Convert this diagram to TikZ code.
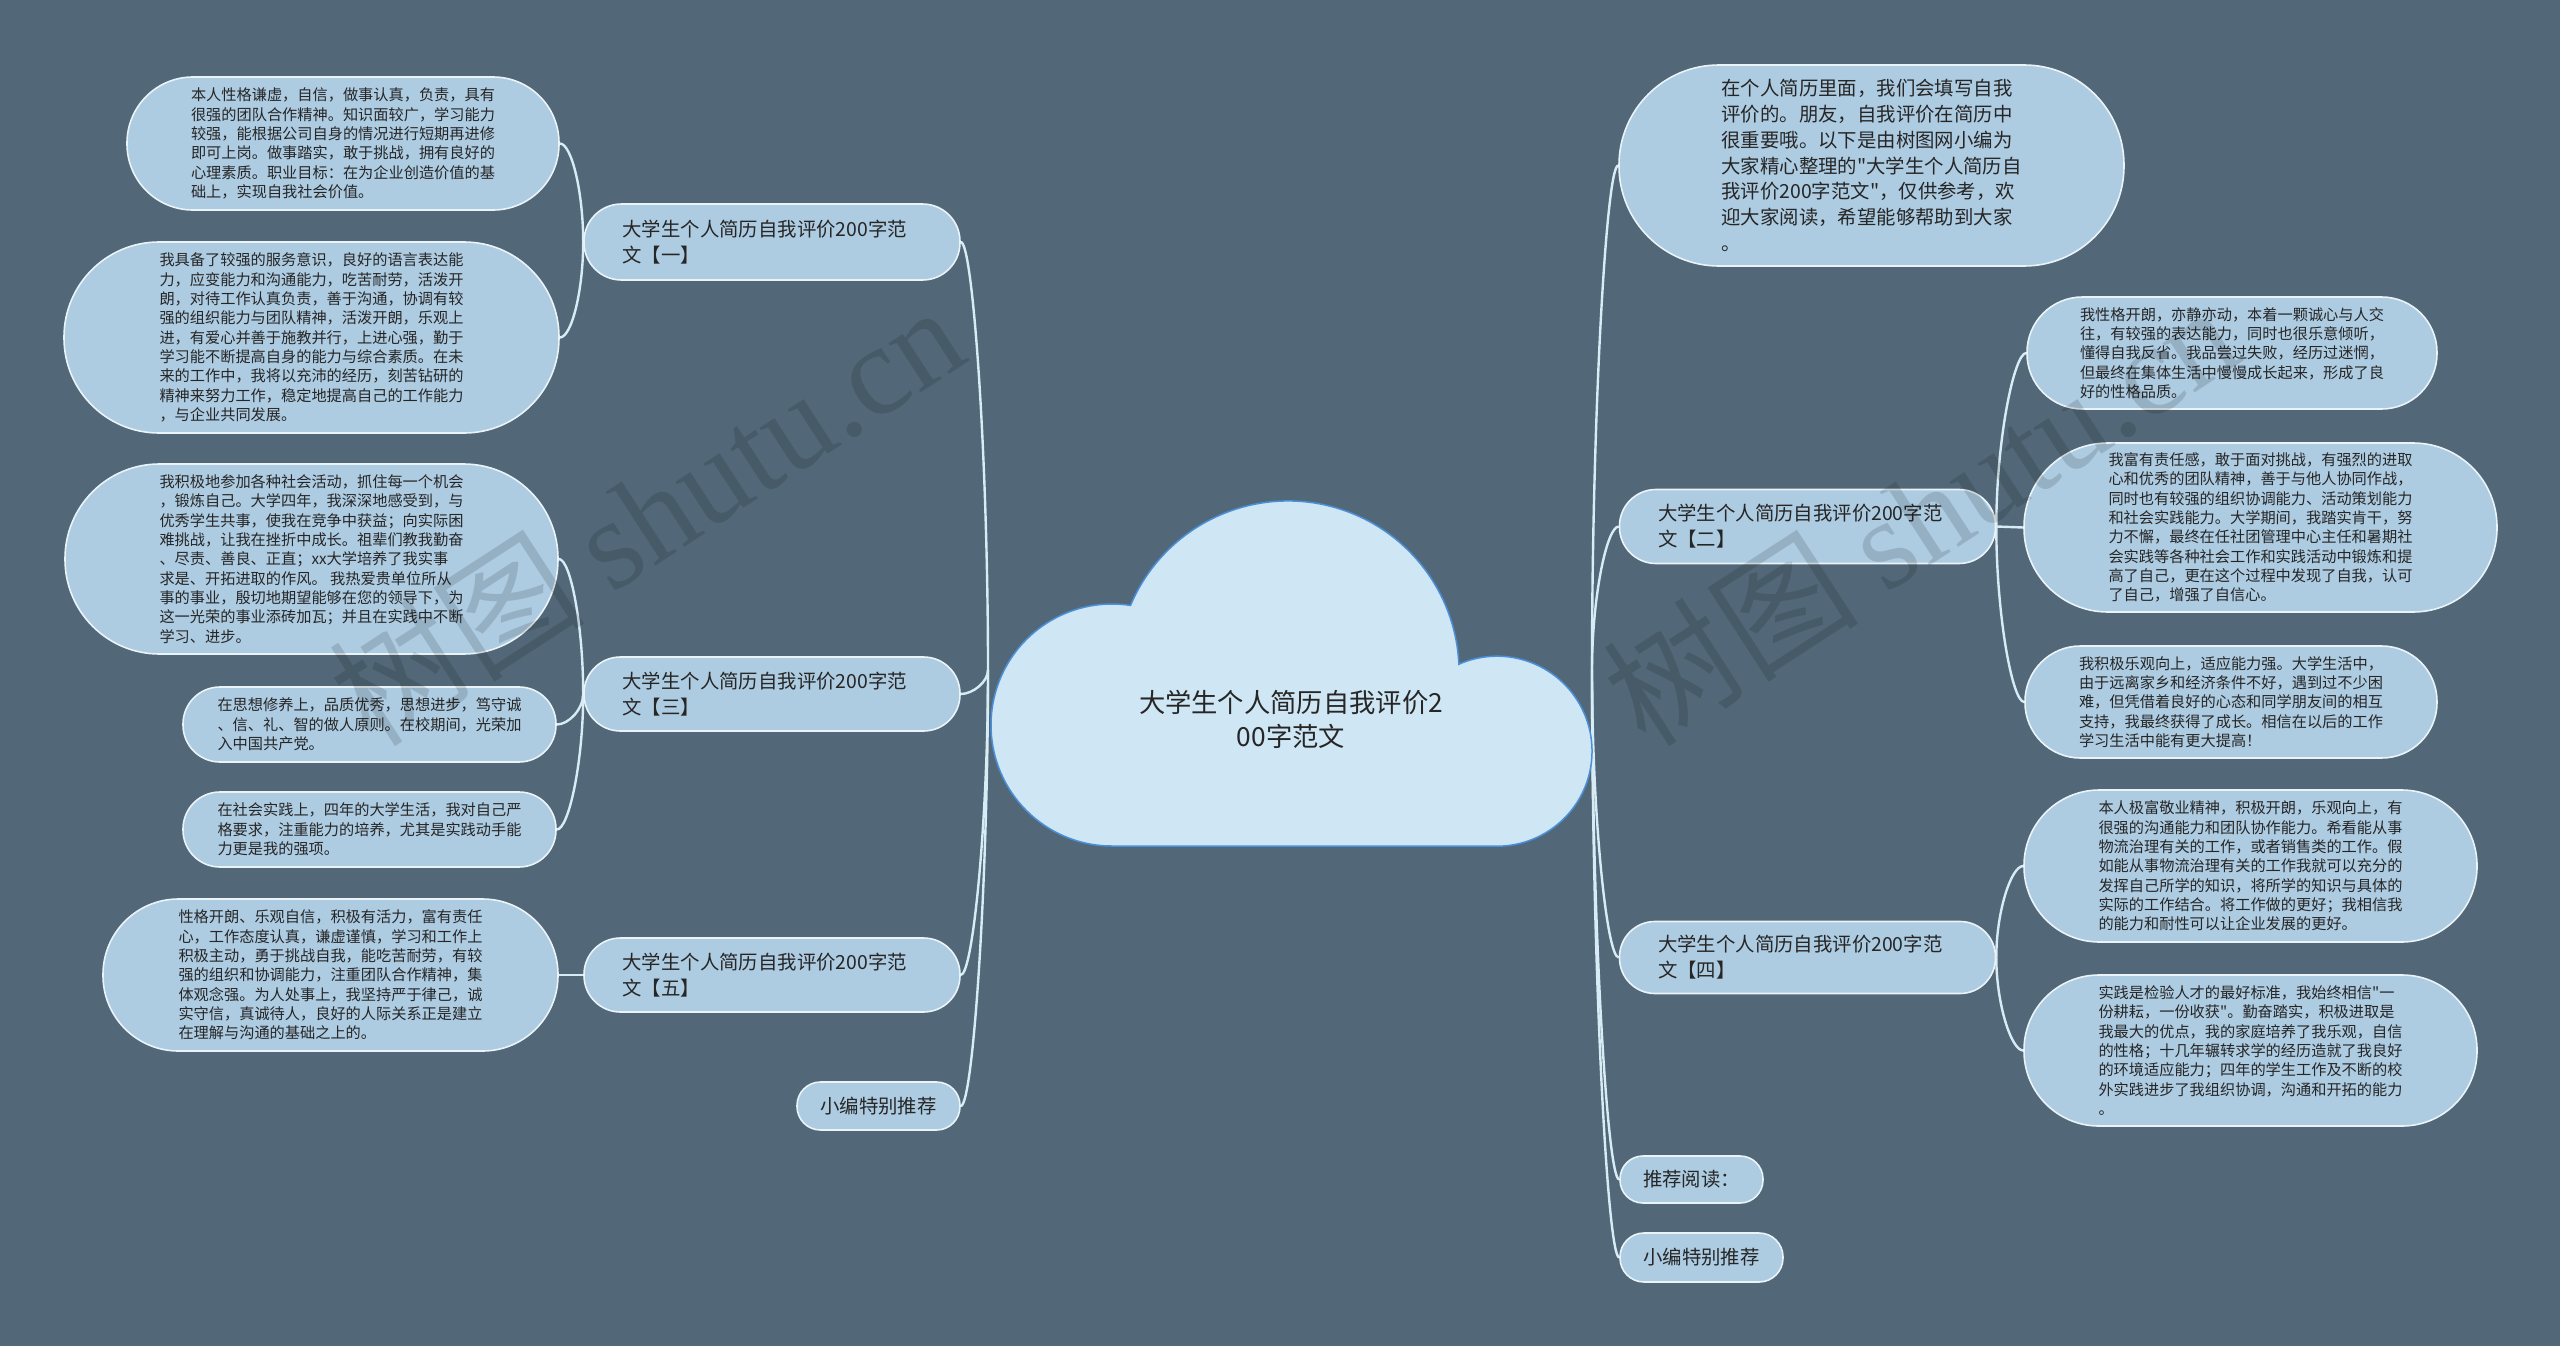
\documentclass[tikz,border=0pt]{standalone}
\usepackage{fontspec}
\setmainfont{Noto Sans CJK SC}[Ligatures=TeXOff]
\newfontfamily\wmfont{Liberation Serif}
\usetikzlibrary{calc}
\pgfdeclarelayer{bgl}
\pgfdeclarelayer{lines}
\pgfsetlayers{bgl,lines,main}
\definecolor{bg}{HTML}{526878}
\definecolor{leaffill}{HTML}{ADCBE1}
\definecolor{cloudfill}{HTML}{CFE6F4}
\definecolor{cloudline}{HTML}{4A90D9}
\definecolor{nodeline}{HTML}{EAF3F8}
\definecolor{conncol}{HTML}{D8ECF5}
\definecolor{txt}{HTML}{262626}
\begin{document}
\begin{tikzpicture}[x=1pt,y=-1pt,
  leaf/.style={draw=nodeline, line width=1.6pt, fill=leaffill, text=txt, align=left, inner sep=0pt, font=\fontsize{15.2}{19.3}\selectfont},
  topic/.style={draw=nodeline, line width=1.6pt, fill=leaffill, text=txt, align=left, inner sep=0pt, font=\fontsize{19.4}{26}\selectfont},
  branch/.style={topic, minimum width=376, text width=299},
  conn/.style={draw=conncol, line width=2.4pt},
  wm/.style={text=black, opacity=0.13, rotate=33, inner sep=0pt, font=\fontsize{128}{128}\selectfont}]
\useasboundingbox (0,0) rectangle (2560,1346);
\clip (0,0) rectangle (2560,1346);
\begin{pgfonlayer}{bgl}
\fill[bg] (0,0) rectangle (2560,1346);
\end{pgfonlayer}

% root anchors
\coordinate (rL) at (988,670);
\coordinate (rR) at (1592,670);

% first-level nodes, left
\node[branch, minimum height=76, rounded corners=37.5] (B1) at (772,242) {大学生个人简历自我评价200字范\\文【一】};
\node[branch, minimum height=74, rounded corners=36.5] (B3) at (772,694) {大学生个人简历自我评价200字范\\文【三】};
\node[branch, minimum height=74, rounded corners=36.5] (B5) at (772,975) {大学生个人简历自我评价200字范\\文【五】};
\node[topic, minimum width=163, minimum height=48, rounded corners=23.5] (S1) at (878.5,1106) {小编特别推荐};

% first-level nodes, right
\node[topic, minimum width=505, minimum height=201, rounded corners=100, font=\fontsize{19.4}{25.7}\selectfont] (R0) at (1871.5,165.5) {在个人简历里面，我们会填写自我\\评价的。朋友，自我评价在简历中\\很重要哦。以下是由树图网小编为\\大家精心整理的"大学生个人简历自\\我评价200字范文"，仅供参考，欢\\迎大家阅读，希望能够帮助到大家\\。};
\node[branch, minimum height=74, rounded corners=36.5] (B2) at (1807.5,526.5) {大学生个人简历自我评价200字范\\文【二】};
\node[branch, minimum height=72, rounded corners=35.5] (B4) at (1807.5,957.5) {大学生个人简历自我评价200字范\\文【四】};
\node[topic, minimum width=143, minimum height=47, rounded corners=23] (RR) at (1691.5,1179.5) {推荐阅读：};
\node[topic, minimum width=163, minimum height=49, rounded corners=24] (S2) at (1701.5,1257.5) {小编特别推荐};

% leaves, left
\node[leaf, minimum width=432, minimum height=133, rounded corners=66] (L1) at (343,143.5) {本人性格谦虚，自信，做事认真，负责，具有\\很强的团队合作精神。知识面较广，学习能力\\较强，能根据公司自身的情况进行短期再进修\\即可上岗。做事踏实，敢于挑战，拥有良好的\\心理素质。职业目标：在为企业创造价值的基\\础上，实现自我社会价值。};
\node[leaf, minimum width=495, minimum height=191, rounded corners=95] (L2) at (311.5,337.5) {我具备了较强的服务意识，良好的语言表达能\\力，应变能力和沟通能力，吃苦耐劳，活泼开\\朗，对待工作认真负责，善于沟通，协调有较\\强的组织能力与团队精神，活泼开朗，乐观上\\进，有爱心并善于施教并行，上进心强，勤于\\学习能不断提高自身的能力与综合素质。在未\\来的工作中，我将以充沛的经历，刻苦钻研的\\精神来努力工作，稳定地提高自己的工作能力\\，与企业共同发展。};
\node[leaf, minimum width=493, minimum height=190, rounded corners=94.5] (L3) at (311.5,559) {我积极地参加各种社会活动，抓住每一个机会\\，锻炼自己。大学四年，我深深地感受到，与\\优秀学生共事，使我在竞争中获益；向实际困\\难挑战，让我在挫折中成长。祖辈们教我勤奋\\、尽责、善良、正直；xx大学培养了我实事\\求是、开拓进取的作风。 我热爱贵单位所从\\事的事业，殷切地期望能够在您的领导下，为\\这一光荣的事业添砖加瓦；并且在实践中不断\\学习、进步。};
\node[leaf, minimum width=373, minimum height=75, rounded corners=37] (L4) at (369.5,724.5) {在思想修养上，品质优秀，思想进步，笃守诚\\、信、礼、智的做人原则。在校期间，光荣加\\入中国共产党。};
\node[leaf, minimum width=373, minimum height=75, rounded corners=37] (L6) at (369.5,829.5) {在社会实践上，四年的大学生活，我对自己严\\格要求，注重能力的培养，尤其是实践动手能\\力更是我的强项。};
\node[leaf, minimum width=455, minimum height=152, rounded corners=75.5] (L5) at (330.5,975) {性格开朗、乐观自信，积极有活力，富有责任\\心，工作态度认真，谦虚谨慎，学习和工作上\\积极主动，勇于挑战自我，能吃苦耐劳，有较\\强的组织和协调能力，注重团队合作精神，集\\体观念强。为人处事上，我坚持严于律己，诚\\实守信，真诚待人，良好的人际关系正是建立\\在理解与沟通的基础之上的。};

% leaves, right
\node[leaf, minimum width=410, minimum height=112, rounded corners=55.5] (RL1) at (2232,353) {我性格开朗，亦静亦动，本着一颗诚心与人交\\往，有较强的表达能力，同时也很乐意倾听，\\懂得自我反省。我品尝过失败，经历过迷惘，\\但最终在集体生活中慢慢成长起来，形成了良\\好的性格品质。};
\node[leaf, minimum width=473, minimum height=169, rounded corners=84] (RL2) at (2260.5,527.5) {我富有责任感，敢于面对挑战，有强烈的进取\\心和优秀的团队精神，善于与他人协同作战，\\同时也有较强的组织协调能力、活动策划能力\\和社会实践能力。大学期间，我踏实肯干，努\\力不懈，最终在任社团管理中心主任和暑期社\\会实践等各种社会工作和实践活动中锻炼和提\\高了自己，更在这个过程中发现了自我，认可\\了自己，增强了自信心。};
\node[leaf, minimum width=412, minimum height=112, rounded corners=55.5] (RL3) at (2231,702) {我积极乐观向上，适应能力强。大学生活中，\\由于远离家乡和经济条件不好，遇到过不少困\\难，但凭借着良好的心态和同学朋友间的相互\\支持，我最终获得了成长。相信在以后的工作\\学习生活中能有更大提高！};
\node[leaf, minimum width=453, minimum height=152, rounded corners=75.5] (RL4) at (2250.5,866) {本人极富敬业精神，积极开朗，乐观向上，有\\很强的沟通能力和团队协作能力。希看能从事\\物流治理有关的工作，或者销售类的工作。假\\如能从事物流治理有关的工作我就可以充分的\\发挥自己所学的知识，将所学的知识与具体的\\实际的工作结合。将工作做的更好；我相信我\\的能力和耐性可以让企业发展的更好。};
\node[leaf, minimum width=453, minimum height=151, rounded corners=75] (RL5) at (2250.5,1050.5) {实践是检验人才的最好标准，我始终相信"一\\份耕耘，一份收获"。勤奋踏实，积极进取是\\我最大的优点，我的家庭培养了我乐观，自信\\的性格；十几年辗转求学的经历造就了我良好\\的环境适应能力；四年的学生工作及不断的校\\外实践进步了我组织协调，沟通和开拓的能力\\。};

% connectors (behind nodes)
\begin{pgfonlayer}{lines}
\draw[conn] (rL) .. controls +(0,-214) and +(12,0) .. (B1.east);
\draw[conn] (rL) .. controls +(0,12) and +(12,0) .. (B3.east);
\draw[conn] (rL) .. controls +(0,152) and +(12,0) .. (B5.east);
\draw[conn] (rL) .. controls +(0,218) and +(12,0) .. (S1.east);
\draw[conn] (rR) .. controls +(0,-252) and +(-12,0) .. (R0.west);
\draw[conn] (rR) .. controls +(0,-72) and +(-12,0) .. (B2.west);
\draw[conn] (rR) .. controls +(0,144) and +(-12,0) .. (B4.west);
\draw[conn] (rR) .. controls +(0,255) and +(-12,0) .. (RR.west);
\draw[conn] (rR) .. controls +(0,294) and +(-12,0) .. (S2.west);
\draw[conn] (B1.west) .. controls +(0,-49) and +(12,0) .. (L1.east);
\draw[conn] (B1.west) .. controls +(0,48) and +(12,0) .. (L2.east);
\draw[conn] (B3.west) .. controls +(0,-67) and +(12,0) .. (L3.east);
\draw[conn] (B3.west) .. controls +(0,15) and +(12,0) .. (L4.east);
\draw[conn] (B3.west) .. controls +(0,68) and +(12,0) .. (L6.east);
\draw[conn] (B5.west) -- (L5.east);
\draw[conn] (B2.east) .. controls +(0,-87) and +(-12,0) .. (RL1.west);
\draw[conn] (B2.east) -- (RL2.west);
\draw[conn] (B2.east) .. controls +(0,88) and +(-12,0) .. (RL3.west);
\draw[conn] (B4.east) .. controls +(0,-46) and +(-12,0) .. (RL4.west);
\draw[conn] (B4.east) .. controls +(0,46) and +(-12,0) .. (RL5.west);
\end{pgfonlayer}

% central cloud
\path[fill=cloudfill, draw=cloudline, line width=1.5pt]
  (1112,846) arc[start angle=90, end angle=278.8, radius=121]
  arc[start angle=202.9, end angle=357.4, radius=171]
  arc[start angle=246.3, end angle=450, radius=95] -- cycle;
\node[font=\fontsize{26.3}{34}\selectfont, align=center, text=txt] (root) at (1291,719) {大学生个人简历自我评价2\\00字范文};

% watermarks
\node[wm] (wm1) at (646,514) {树图 {\wmfont shutu.cn}};
\node[wm] (wm2) at (1920,514) {树图 {\wmfont shutu.cn}};
\end{tikzpicture}
\end{document}
